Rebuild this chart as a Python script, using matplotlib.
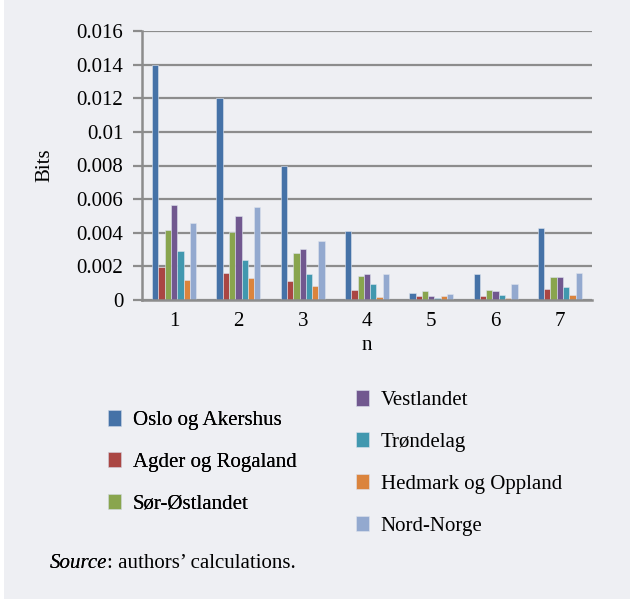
import numpy as np
import matplotlib as mpl
mpl.use("Agg")
import matplotlib.pyplot as plt
from matplotlib.patches import Rectangle

mpl.rcParams.update({"font.family": "Liberation Serif", "font.size": 15})

BG = "#EEEFF3"
GRID = "#8C8C8C"
FS = 15

n_vals = ["1", "2", "3", "4", "5", "6", "7"]
regions = ["Oslo og Akershus", "Agder og Rogaland", "Sør-Østlandet", "Vestlandet",
           "Trøndelag", "Hedmark og Oppland", "Nord-Norge"]
colors = ["#4572A7", "#AA4643", "#89A54E", "#71588F", "#4198AF", "#DB843D", "#93A9CF"]

oslo     = [0.0140, 0.0120, 0.0080, 0.00412, 0.00041, 0.00156, 0.00428]
agder    = [0.00198, 0.00158, 0.00115, 0.00057, 0.00024, 0.00024, 0.00067]
sor      = [0.00418, 0.00404, 0.00279, 0.00142, 0.00055, 0.00061, 0.00136]
vest     = [0.00566, 0.00501, 0.00305, 0.00157, 0.00024, 0.00053, 0.00136]
trond    = [0.00293, 0.00236, 0.00152, 0.00093, 0.00012, 0.00030, 0.00075]
hedmark  = [0.00121, 0.00133, 0.00083, 0.00018, 0.00024, 0.00012, 0.00030]
nord     = [0.00459, 0.00552, 0.00352, 0.00157, 0.00035, 0.00093, 0.00162]
series = [oslo, agder, sor, vest, trond, hedmark, nord]

fig = plt.figure(figsize=(6.3, 5.99), dpi=100, facecolor="white")
fig.patches.append(Rectangle((4 / 630, 0), 1, 1, transform=fig.transFigure,
                             facecolor=BG, edgecolor="none", zorder=-10))

ax = fig.add_axes([142 / 630, 299 / 599, 450 / 630, 269 / 599])
ax.set_facecolor(BG)

x = np.arange(1, len(n_vals) + 1)
w = 0.098
for i, (vals, lab, c) in enumerate(zip(series, regions, colors)):
    ax.bar(x + (i - 3) * w, vals, w, color=c, edgecolor="#dde3ee", lw=0.4, label=lab, zorder=3)

ax.set_xlim(0.5, 7.5)
ax.set_ylim(0, 0.016)
ax.set_yticks(np.arange(0, 0.0161, 0.002))
ax.yaxis.set_major_formatter(mpl.ticker.FuncFormatter(lambda v, p: "%g" % round(v, 4)))
ax.set_xticks(x)
ax.set_xticklabels(n_vals)
ax.grid(axis="y", color=GRID, lw=1.6, zorder=1)
for s in ["top", "right"]:
    ax.spines[s].set_visible(False)
for s in ["left", "bottom"]:
    ax.spines[s].set_color(GRID)
    ax.spines[s].set_linewidth(1.8)
    ax.spines[s].set_zorder(4)
ax.tick_params(axis="y", length=6.5, width=1.6, color=GRID, pad=7, labelsize=FS)
ax.tick_params(axis="x", length=0, pad=9, labelsize=FS)
ax.set_xlabel("n", fontsize=FS, labelpad=3)
ax.set_ylabel("Bits", fontsize=FS, labelpad=16)

h, l = ax.get_legend_handles_labels()
kw = dict(frameon=False, fontsize=FS, handlelength=0.65, handleheight=0.75,
          handletextpad=0.55, labelspacing=1.05, loc="center left")
leg1 = fig.legend(h[:3], l[:3], bbox_to_anchor=(89 / 630, 1 - 462 / 599), **kw)
fig.add_artist(leg1)
leg2 = fig.legend(h[3:], l[3:], bbox_to_anchor=(337 / 630, 1 - 463 / 599), **kw)

t1 = fig.text(50 / 630, 1 - 563 / 599, "Source", fontsize=FS, style="italic", va="center")
fig.add_artist(t1)
ax.annotate(": authors’ calculations.", xy=(1, 0.5), xycoords=t1, va="center",
            fontsize=FS, annotation_clip=False)

fig.savefig("out.png", dpi=100, facecolor=fig.get_facecolor())
